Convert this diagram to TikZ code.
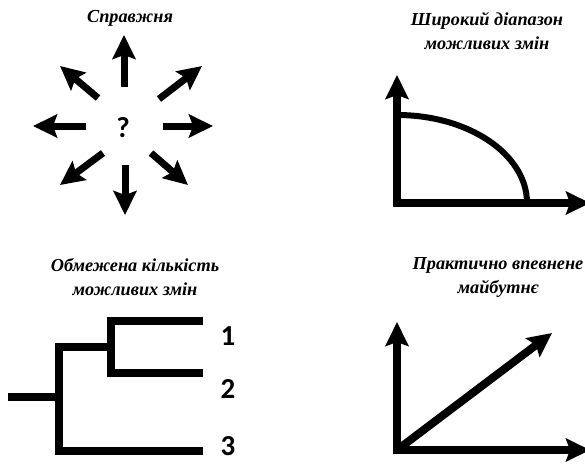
\documentclass[tikz,border=0pt]{standalone}
\usepackage{fontspec}
\setmainfont{Liberation Serif}
\newfontfamily\numfont{Carlito}
\usetikzlibrary{arrows.meta}
\tikzset{
  bigarrow/.style={line width=7pt, -{Stealth[length=24pt, width=23pt, inset=4pt]}},
  axis/.style={line width=8pt, -{Stealth[length=24pt, width=23pt, inset=4pt]}},
  treeline/.style={line width=8pt, line join=miter, line cap=butt},
  title/.style={font=\fontsize{18.3}{24}\selectfont\bfseries\itshape, align=center, inner sep=0pt},
  numlabel/.style={font=\fontsize{29}{30}\selectfont\numfont\bfseries, inner sep=0pt}
}
\begin{document}
\begin{tikzpicture}[x=1pt,y=-1pt]
\useasboundingbox (0,0) rectangle (585,463);
% titles
\node[title] (t1) at (130,18) {Справжня};
\node[title] (t2) at (487,31) {Широкий діапазон\\можливих змін};
\node[title] (t3) at (135,277.5) {Обмежена кількість\\можливих змін};
\node[title] (t4) at (498,277.5) {Практично впевнене\\майбутнє};
% star
\node[numlabel] (q) at (123,128) {?};
\coordinate (us) at (124,87);  \coordinate (ue) at (124,35);
\coordinate (rs) at (163,126); \coordinate (re) at (213,126);
\coordinate (ls) at (86,126);  \coordinate (le) at (33,126);
\coordinate (ds) at (125,165); \coordinate (de) at (125,215);
\coordinate (urs) at (159,99); \coordinate (ure) at (202,66);
\coordinate (uls) at (98,98);  \coordinate (ule) at (60,66);
\coordinate (dls) at (103,153); \coordinate (dle) at (60,185);
\coordinate (drs) at (151,153); \coordinate (dre) at (188,185);
\foreach \a in {u,r,l,d,ur,ul,dl,dr} \draw[bigarrow] (\a s) -- (\a e);
% top right
\coordinate (o1) at (397,203);
\coordinate (y1) at (397,75);
\coordinate (x1) at (590,203);
\coordinate (c1) at (397,115);
\draw[axis] ([yshift=-4pt]o1) -- (y1);
\draw[axis] ([xshift=-4pt]o1) -- (x1);
\draw[line width=6pt] (c1) arc[start angle=90, end angle=0, x radius=130pt, y radius=88pt];
% tree
\coordinate (root) at (8,397);
\coordinate (j1) at (59,397);
\coordinate (j1t) at (59,347);
\coordinate (j1b) at (59,451);
\coordinate (j2) at (111,347);
\coordinate (j2t) at (111,321);
\coordinate (j2b) at (111,372.5);
\coordinate (e1) at (203,321);
\coordinate (e2) at (203,372.5);
\coordinate (e3) at (203,451);
\draw[treeline] (root) -- (j1);
\draw[treeline] (e1) -- (j2t) -- (j2b) -- (e2);
\draw[treeline] (j2) -- (j1t) -- (j1b) -- (e3);
\node[numlabel] (n1) at (228,336) {1};
\node[numlabel] (n2) at (228,389) {2};
\node[numlabel] (n3) at (228,446) {3};
% bottom right
\coordinate (o2) at (397,450);
\coordinate (y2) at (397,322);
\coordinate (x2) at (590,450);
\coordinate (d2) at (552,333);
\draw[axis] ([yshift=-4pt]o2) -- (y2);
\draw[axis] ([xshift=-4pt]o2) -- (x2);
\draw[axis] (o2) -- (d2);
\end{tikzpicture}
\end{document}
